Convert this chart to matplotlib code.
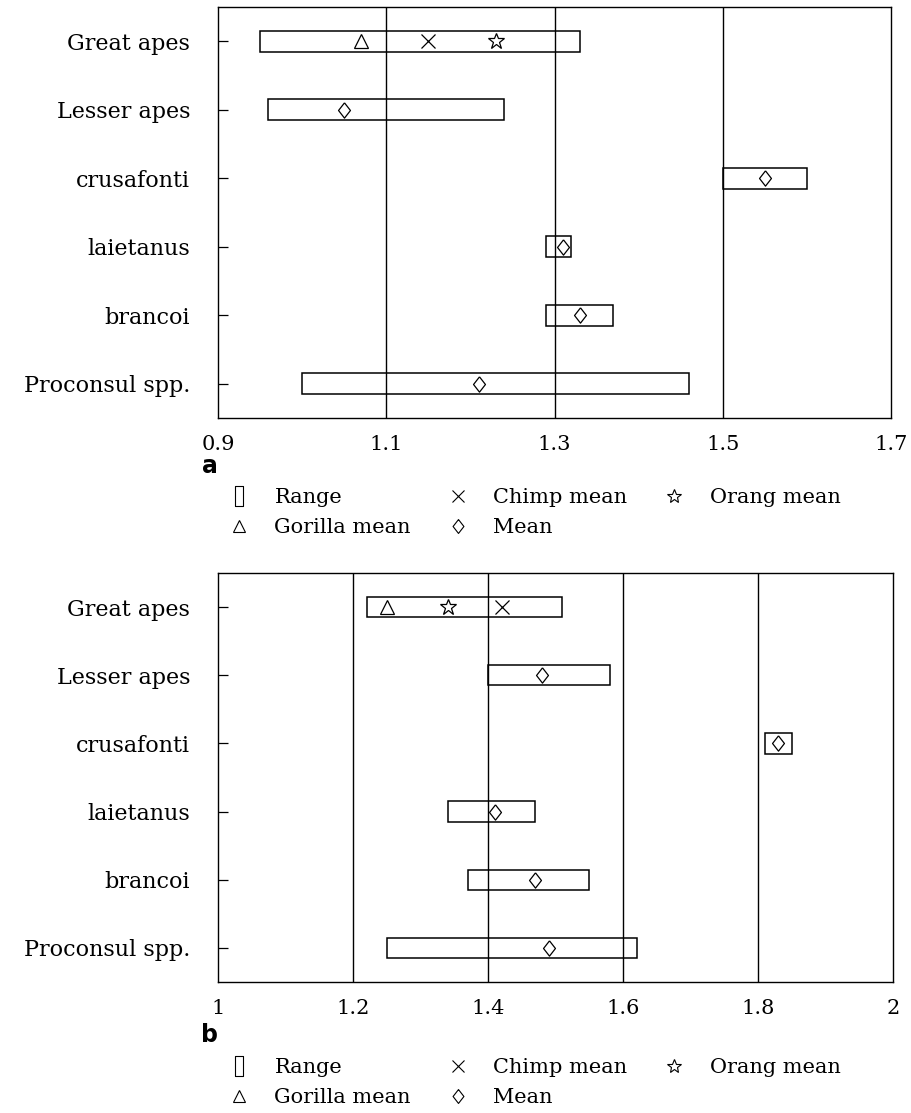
import numpy as np
import matplotlib
import matplotlib.pyplot as plt
from matplotlib.lines import Line2D

matplotlib.use('agg')

# taxa, top to bottom
taxa = ['Great apes', 'Lesser apes', 'crusafonti', 'laietanus', 'brancoi', 'Proconsul spp.']

# panel a: ranges and means
a_lo = [0.95, 0.96, 1.50, 1.29, 1.29, 1.00]
a_hi = [1.33, 1.24, 1.60, 1.32, 1.37, 1.46]
a_mean = [np.nan, 1.05, 1.55, 1.31, 1.33, 1.21]
a_gorilla, a_chimp, a_orang = 1.07, 1.15, 1.23
a_ticks = [0.9, 1.1, 1.3, 1.5, 1.7]
a_ticklabels = ['0.9', '1.1', '1.3', '1.5', '1.7']

# panel b: ranges and means
b_lo = [1.22, 1.40, 1.81, 1.34, 1.37, 1.25]
b_hi = [1.51, 1.58, 1.85, 1.47, 1.55, 1.62]
b_mean = [np.nan, 1.48, 1.83, 1.41, 1.47, 1.49]
b_gorilla, b_chimp, b_orang = 1.25, 1.42, 1.34
b_ticks = [1.0, 1.2, 1.4, 1.6, 1.8, 2.0]
b_ticklabels = ['1', '1.2', '1.4', '1.6', '1.8', '2']

plt.rcParams['font.family'] = 'DejaVu Serif'

W, H = 912, 1113
fig = plt.figure(figsize=(W / 100, H / 100), dpi=100)
ax_a = fig.add_axes([218 / W, 1 - 418 / H, 673 / W, 411 / H])
ax_b = fig.add_axes([218 / W, 1 - 982 / H, 675 / W, 409 / H])

# open diamond a bit wider than matplotlib's thin one
diamond = [(0, 1), (0.78, 0), (0, -1), (-0.78, 0), (0, 1)]
# narrow upright rectangle used as the "Range" legend symbol
range_marker = [(-0.45, -1), (0.45, -1), (0.45, 1), (-0.45, 1), (-0.45, -1)]


def draw_panel(ax, lo, hi, mean, gor, chi, ora, ticks, ticklabels):
    y = np.arange(len(taxa))
    lo = np.array(lo)
    hi = np.array(hi)
    # vertical reference lines at the inner ticks
    for t in ticks[1:-1]:
        ax.axvline(t, color='black', lw=1.0, zorder=1)
    ax.barh(y, hi - lo, left=lo, height=0.3, fill=False,
            edgecolor='black', lw=1.1, zorder=2)
    ax.plot(mean, y, ls='none', marker=diamond, ms=11, mfc='white',
            mec='black', mew=0.9, zorder=3)
    ax.plot([gor], [0], ls='none', marker='^', ms=10, mfc='none',
            mec='black', mew=0.9, zorder=3)
    ax.plot([chi], [0], ls='none', marker='x', ms=10, color='black',
            mew=0.9, zorder=3)
    ax.plot([ora], [0], ls='none', marker='*', ms=12, mfc='none',
            mec='black', mew=0.9, zorder=3)

    ax.set_xlim(ticks[0], ticks[-1])
    ax.set_ylim(len(taxa) - 0.5, -0.5)
    ax.set_xticks(ticks)
    ax.set_xticklabels(ticklabels, fontsize=15)
    ax.set_yticks(y)
    ax.set_yticklabels(taxa, fontsize=16)
    ax.tick_params(axis='x', length=0, pad=12)
    ax.tick_params(axis='y', direction='in', length=7, width=0.9, pad=20)
    for s in ax.spines.values():
        s.set_linewidth(1.0)


def add_legend(top):
    handles = [
        Line2D([], [], ls='none', marker=range_marker, ms=14, mfc='none', mec='black', mew=0.8),
        Line2D([], [], ls='none', marker='^', ms=9, mfc='none', mec='black', mew=0.8),
        Line2D([], [], ls='none', marker='x', ms=8, color='black', mew=0.8),
        Line2D([], [], ls='none', marker=diamond, ms=10, mfc='none', mec='black', mew=0.8),
        Line2D([], [], ls='none', marker='*', ms=10, mfc='none', mec='black', mew=0.8),
    ]
    labels = ['Range', 'Gorilla mean', 'Chimp mean', 'Mean', 'Orang mean']
    fig.legend(handles, labels, ncol=3, frameon=False, loc='upper left',
               bbox_to_anchor=(0.253, top), fontsize=15,
               handlelength=0.8, handletextpad=1.3, columnspacing=1.85,
               labelspacing=0.55, borderaxespad=0, borderpad=0)


draw_panel(ax_a, a_lo, a_hi, a_mean, a_gorilla, a_chimp, a_orang, a_ticks, a_ticklabels)
draw_panel(ax_b, b_lo, b_hi, b_mean, b_gorilla, b_chimp, b_orang, b_ticks, b_ticklabels)

fig.text(210 / W, 1 - 466 / H, 'a', fontsize=17, fontweight='bold',
         family='DejaVu Sans', ha='center', va='center')
fig.text(210 / W, 1 - 1035 / H, 'b', fontsize=17, fontweight='bold',
         family='DejaVu Sans', ha='center', va='center')

add_legend(1 - 488 / H)
add_legend(1 - 1058 / H)

fig.savefig('out.png', dpi=100, facecolor='white')
